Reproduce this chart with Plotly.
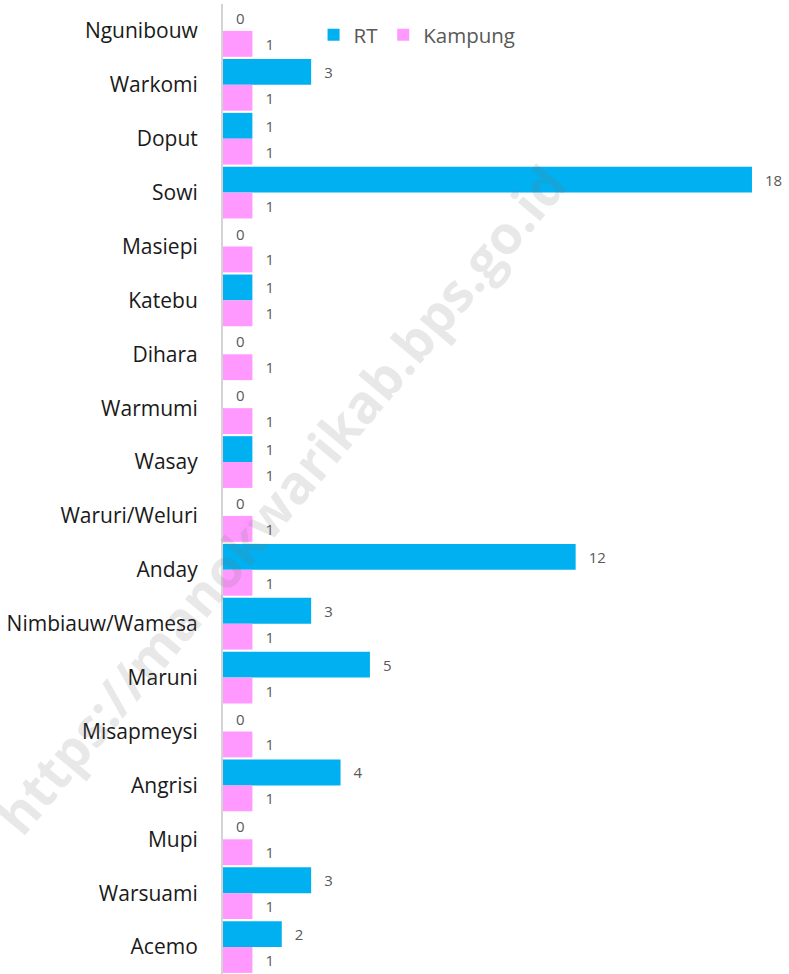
import plotly.graph_objects as go

categories = ["Ngunibouw", "Warkomi", "Doput", "Sowi", "Masiepi", "Katebu", "Dihara",
              "Warmumi", "Wasay", "Waruri/Weluri", "Anday", "Nimbiauw/Wamesa", "Maruni",
              "Misapmeysi", "Angrisi", "Mupi", "Warsuami", "Acemo"]
rt_values = [0, 3, 1, 18, 0, 1, 0, 0, 1, 0, 12, 3, 5, 0, 4, 0, 3, 2]
kampung_values = [1, 1, 1, 1, 1, 1, 1, 1, 1, 1, 1, 1, 1, 1, 1, 1, 1, 1]

FONT = "Open Sans, sans-serif"
pad = "\u2002\u2009"

fig = go.Figure()
fig.add_trace(go.Bar(
    name="RT", y=categories, x=rt_values, orientation="h",
    marker=dict(color="#00B0F0", line=dict(width=0)),
    texttemplate=pad + "%{x}", textposition="outside",
    textfont=dict(family=FONT, size=15, color="#595959"),
    cliponaxis=False,
))
fig.add_trace(go.Bar(
    name="Kampung", y=categories, x=kampung_values, orientation="h",
    marker=dict(color="#FF99FF", line=dict(width=0)),
    texttemplate=pad + "%{x}", textposition="outside",
    textfont=dict(family=FONT, size=15, color="#595959"),
    cliponaxis=False,
))

fig.update_layout(
    width=789, height=974,
    margin=dict(l=223, r=0, t=4, b=0, autoexpand=False),
    paper_bgcolor="white", plot_bgcolor="white",
    barmode="group", bargap=0.04, bargroupgap=0,
    showlegend=True,
    legend=dict(orientation="h", x=0.16, y=0.968, xanchor="left", yanchor="middle",
                font=dict(family=FONT, size=20.5, color="#595959"),
                bgcolor="rgba(0,0,0,0)", itemclick=False),
    xaxis=dict(range=[0, 19.26], showticklabels=False, showgrid=False,
               zeroline=False, showline=False, ticks=""),
    yaxis=dict(autorange="reversed", showgrid=False, zeroline=False,
               showline=True, linecolor="#d4d4d4", linewidth=2, automargin=False,
               ticks="", ticklabelstandoff=19,
               tickfont=dict(family=FONT, size=21, color="#1a1a1a")),
    annotations=[dict(
        text="https://manokwarikab.bps.go.id", xref="paper", yref="paper",
        x=(280 - 223) / 566, y=1 - (500 - 4) / 970, showarrow=False,
        textangle=-50, xanchor="center", yanchor="middle",
        font=dict(family=FONT, size=53, color="rgba(120,120,120,0.17)",
                  weight="bold"),
    )],
)

fig.write_html("out.html", config={"displayModeBar": False},
               post_script="document.body.style.margin='0';document.body.style.overflow='hidden';")
